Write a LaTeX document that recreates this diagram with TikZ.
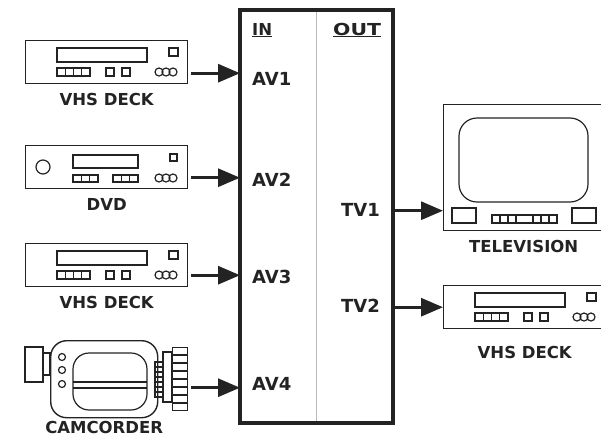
\documentclass[tikz,border=0pt]{standalone}
\usepackage{fontspec}
\usepackage{graphicx}
\setsansfont{DejaVu Sans}
\usetikzlibrary{positioning,arrows.meta}
\definecolor{ink}{HTML}{232323}

\newcommand{\vhsdeck}[2]{%
\node[dev, minimum width=162pt, minimum height=43pt, anchor=north west] (#1) at (#2) {};
\begin{scope}[shift={(#1.north west)}, line width=1.2pt]
\draw (32,8) rectangle (122,22);
\draw (144,8) rectangle (153,16);
\draw (32,28) rectangle (65,36);
\foreach \x in {40.25,48.5,56.75} \draw (\x,28) -- (\x,36);
\draw (81,28) rectangle (89,36);
\draw (97,28) rectangle (105,36);
\foreach \x in {134,141,148} \draw (\x,32) circle (4pt);
\end{scope}}

\begin{document}
\begin{tikzpicture}[x=1pt, y=-1pt, color=ink,
  dev/.style={draw, line width=1.4pt, inner sep=0pt},
  feed/.style={line width=3pt, -{Triangle[length=22pt,width=18pt]}},
  infeed/.style={feed, shorten <=3pt},
  port/.style={font=\sffamily\bfseries\fontsize{18}{20}\selectfont, inner sep=0pt},
  tag/.style={font=\sffamily\bfseries\fontsize{16.5}{18}\selectfont, inner sep=0pt}]
\useasboundingbox (0,0) rectangle (601,440);

\node[draw, line width=3.5pt, outer sep=0pt, inner sep=0pt, minimum width=153pt, minimum height=413pt] (mux) at (316.5,216.5) {};
\draw[gray!55, line width=0.8pt, shorten <=2pt, shorten >=2pt] (mux.north) -- (mux.south);
\node[tag, anchor=base west] (inhead) at (252,35) {\underline{IN}};
\node[tag, anchor=base west] (outhead) at (333,35) {\underline{\scalebox{1.24}[1]{OUT}}};
\node[port, anchor=west] (av1) at (252,79) {AV1};
\node[port, anchor=west] (av2) at (252,179.5) {AV2};
\node[port, anchor=west] (av3) at (252,276.5) {AV3};
\node[port, anchor=west] (av4) at (252,383.5) {AV4};
\node[port, anchor=east] (tv1) at (380,210) {TV1};
\node[port, anchor=east] (tv2) at (380,305.5) {TV2};

\vhsdeck{vhsA}{25,40}
\node[tag, below=9pt of vhsA] (vhsAtag) {VHS DECK};

\node[dev, minimum width=162pt, minimum height=43pt, anchor=north west] (dvd) at (25,145) {};
\begin{scope}[shift={(dvd.north west)}, line width=1.2pt]
\draw (18,22) circle (7pt);
\draw (48,10) rectangle (113,23);
\draw (145,9) rectangle (152,16);
\draw (48,30) rectangle (73,37);
\draw (88,30) rectangle (113,37);
\foreach \x in {56.3,64.6,96.3,104.6} \draw (\x,30) -- (\x,37);
\foreach \x in {134,141,148} \draw (\x,33) circle (4pt);
\end{scope}
\node[tag, below=9pt of dvd] (dvdtag) {DVD};

\vhsdeck{vhsB}{25,243}
\node[tag, below=9pt of vhsB] (vhsBtag) {VHS DECK};

\begin{scope}[shift={(25,340)}, line width=1.2pt]
\node[dev, rounded corners=16pt, minimum width=107pt, minimum height=77pt, anchor=north west] (cam) at (25,0) {};
\draw (0,7) rectangle (18,42);
\draw (18,13) rectangle (25,35);
\foreach \y in {17,30,44} \draw (37,\y) circle (3.5pt);
\draw[rounded corners=16pt] (48,13) rectangle (122,70);
\draw (48,42) -- (122,42) (48,48) -- (122,48);
\draw (130,22) rectangle (138,57);
\foreach \y in {27,32,...,52} \draw (130,\y) -- (138,\y);
\draw (138,12) rectangle (147,62);
\node[dev, minimum width=15pt, minimum height=63pt, anchor=north west] (camlens) at (147,7) {};
\foreach \y in {15,23,...,63} \draw (147,\y) -- (162,\y);
\end{scope}
\node[tag, below=3pt of cam] (camtag) {CAMCORDER};

\node[dev, minimum width=160pt, minimum height=126pt, anchor=north west] (tvset) at (443,104) {};
\begin{scope}[shift={(tvset.north west)}, line width=1.2pt]
\draw[rounded corners=18pt] (16,14) rectangle (145,98);
\draw (9,104) rectangle (33,119);
\draw (129,104) rectangle (153,119);
\draw (49,111) rectangle (114,119);
\foreach \x in {57,65,73,90,98,106} \draw (\x,111) -- (\x,119);
\end{scope}
\node[tag, below=9pt of tvset] (tvtag) {TELEVISION};

\vhsdeck{vhsC}{443,285}
\node[tag, below=17pt of vhsC] (vhsCtag) {VHS DECK};

\draw[infeed] ([yshift=-11pt]vhsA.east) -- ([yshift=-11pt]vhsA.east -| mux.west);
\draw[infeed] ([yshift=-10.5pt]dvd.east) -- ([yshift=-10.5pt]dvd.east -| mux.west);
\draw[infeed] ([yshift=-10pt]vhsB.east) -- ([yshift=-10pt]vhsB.east -| mux.west);
\draw[infeed] ([yshift=-8.5pt]camlens.east) -- ([yshift=-8.5pt]camlens.east -| mux.west);
\draw[feed] ([yshift=-43pt]tvset.west -| mux.east) -- ([yshift=-43pt]tvset.west);
\draw[feed] (vhsC.west -| mux.east) -- (vhsC.west);
\end{tikzpicture}
\end{document}
